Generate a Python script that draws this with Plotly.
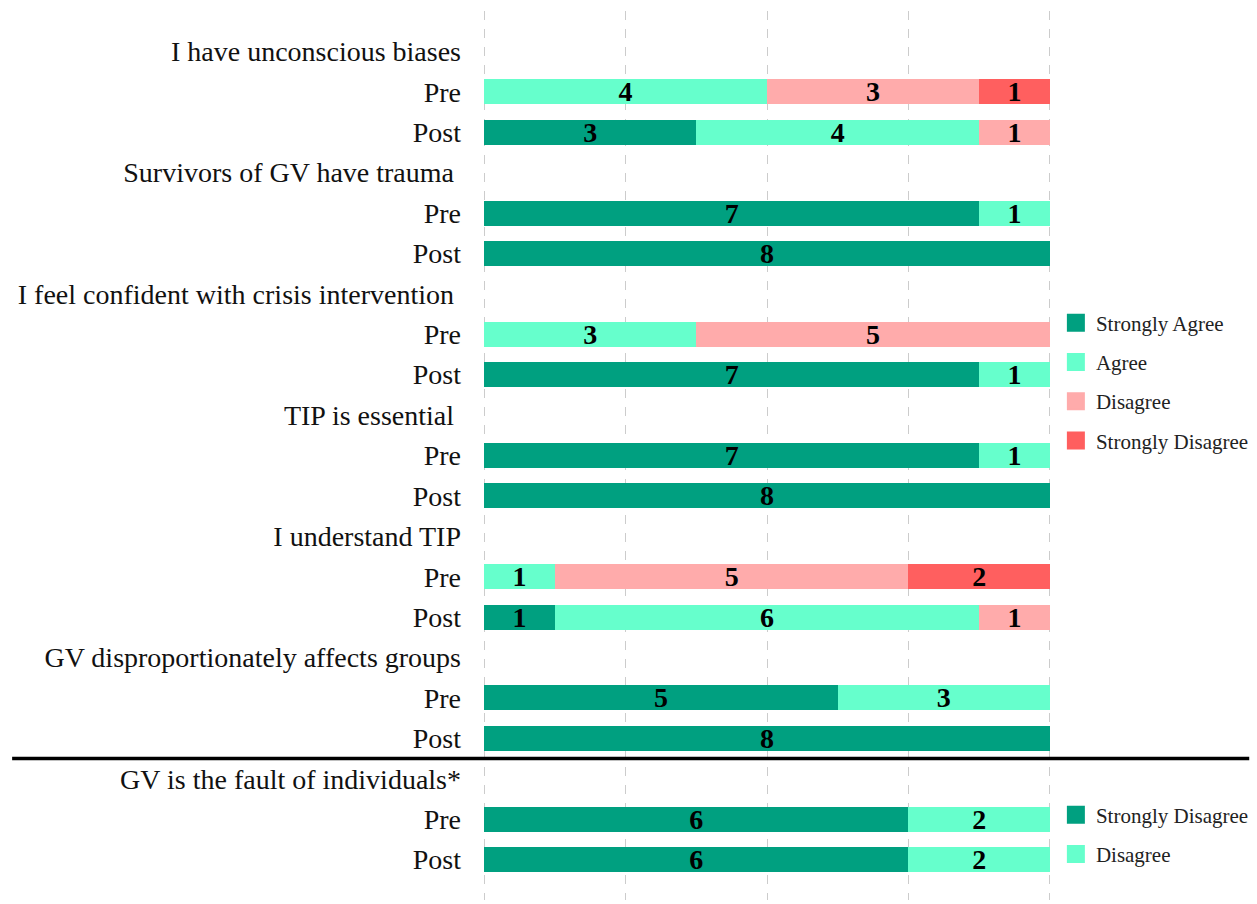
import plotly.graph_objects as go

# ---- data ----
groups = ["I have unconscious biases", "Survivors of GV have trauma\u00a0",
          "I feel confident with crisis intervention\u00a0", "TIP is essential\u00a0",
          "I understand TIP", "GV disproportionately affects groups"]
neg_group = "GV is the fault of individuals*"

sa_pre = [0, 7, 0, 7, 0, 5]
sa_post = [3, 8, 7, 8, 1, 8]
a_pre = [4, 1, 3, 1, 1, 3]
a_post = [4, 0, 1, 0, 6, 0]
d_pre = [3, 0, 5, 0, 5, 0]
d_post = [1, 0, 0, 0, 1, 0]
sd_pre = [1, 0, 0, 0, 2, 0]
sd_post = [0, 0, 0, 0, 0, 0]

neg_sdis = [6, 6]   # Pre, Post
neg_dis = [2, 2]

categories = ["Strongly Agree", "Agree", "Disagree", "Strongly Disagree"]
neg_categories = ["Strongly Disagree", "Disagree"]
colors = ["#00A080", "#66FFCC", "#FFABAB", "#FF5F5F"]
neg_colors = ["#00A080", "#66FFCC"]

FONT = "Liberation Serif"

# ---- row layout ----
tickvals, ticktext = [], []
bar_rows = []
for i, g in enumerate(groups):
    tickvals += [3 * i, 3 * i + 1, 3 * i + 2]
    ticktext += [g, "Pre", "Post"]
    bar_rows += [3 * i + 1, 3 * i + 2]
ng = len(groups)
tickvals += [3 * ng, 3 * ng + 1, 3 * ng + 2]
ticktext += [neg_group, "Pre", "Post"]
neg_rows = [3 * ng + 1, 3 * ng + 2]

def interleave(pre, post):
    out = []
    for a, b in zip(pre, post):
        out += [a, b]
    return out

series = [interleave(sa_pre, sa_post), interleave(a_pre, a_post),
          interleave(d_pre, d_post), interleave(sd_pre, sd_post)]

TXT = dict(family=FONT, size=28, color="black", weight="bold")

fig = go.Figure()

def add_series(rows, names, vals_list, cols, legend):
    for name, vals, col in zip(names, vals_list, cols):
        fig.add_trace(go.Bar(
            y=rows, x=vals, orientation="h", name=name,
            marker=dict(color=col, line=dict(width=0)),
            text=[str(v) if v else "" for v in vals],
            textposition="inside", insidetextanchor="middle", textangle=0,
            constraintext="none", textfont=TXT,
            width=0.62, showlegend=False, hoverinfo="skip"))
        # legend entry
        fig.add_trace(go.Scatter(
            x=[None], y=[None], mode="markers", name=name,
            marker=dict(symbol="square", size=16, color=col,
                        line=dict(color=col, width=2)),
            legend=legend, legendgroup=legend + name, hoverinfo="skip"))

add_series(bar_rows, categories, series, colors, "legend")
add_series(neg_rows, neg_categories, [neg_sdis, neg_dis], neg_colors, "legend2")

fig.add_shape(type="line", xref="paper", yref="y",
              x0=-0.829, x1=1.349, y0=3 * ng - 0.5, y1=3 * ng - 0.5,
              line=dict(color="black", width=3.5), layer="above")

LEG = dict(xref="container", yref="container", xanchor="left", yanchor="middle",
           tracegroupgap=9, font=dict(family=FONT, size=21, color="#222222"),
           bgcolor="rgba(0,0,0,0)", itemwidth=30)

fig.update_layout(
    width=1257, height=904,
    margin=dict(l=483, r=206, t=11, b=4),
    barmode="stack",
    plot_bgcolor="white", paper_bgcolor="white",
    font=dict(family=FONT, color="black"),
    xaxis=dict(range=[-0.015, 8.015], tickvals=[0, 2, 4, 6, 8], showticklabels=False,
               showgrid=True, gridcolor="#CCCCCC", griddash="dash", gridwidth=1,
               zeroline=False, showline=False, ticks=""),
    yaxis=dict(range=[21, -1], tickvals=tickvals, ticktext=ticktext,
               tickfont=dict(family=FONT, size=28, color="#111111"),
               showgrid=False, zeroline=False, showline=False, ticks="",
               ticklabelstandoff=21),
    legend=dict(x=0.84, y=1 - 382 / 904, **LEG),
    legend2=dict(x=0.84, y=1 - 834.5 / 904, **LEG),
    showlegend=True,
)

fig.write_html("out.html")
